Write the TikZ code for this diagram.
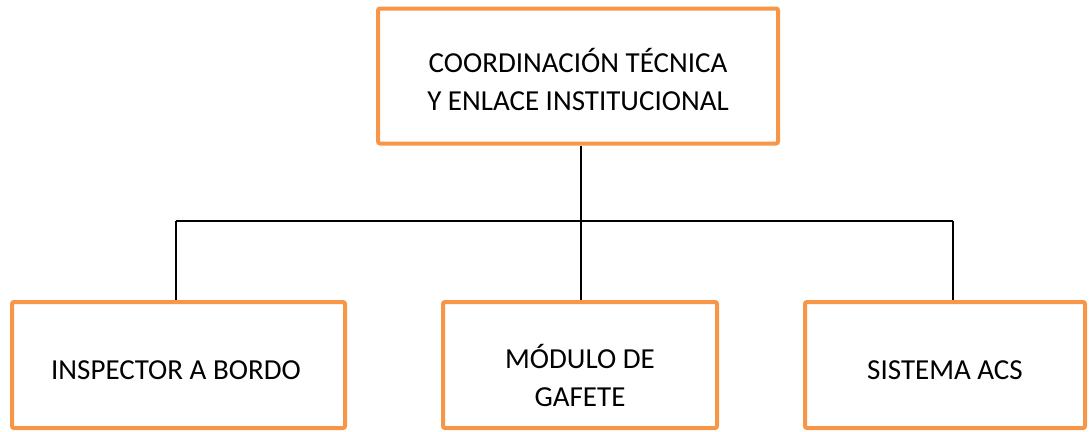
\documentclass[tikz,border=0pt]{standalone}
\usepackage{fontspec}
\setmainfont{Carlito}
\definecolor{boxorange}{HTML}{F79646}
\begin{document}
\begin{tikzpicture}[x=1pt,y=-1pt,
  orgbox/.style={draw=boxorange, line width=4pt, rounded corners=2pt, fill=white, inner sep=0pt},
  lbl/.style={align=center, font=\fontsize{29}{38}\selectfont, inner sep=0pt},
  link/.style={draw=black, line width=1.2pt}]
\useasboundingbox (0,0) rectangle (1089,431);
\node[orgbox, minimum width=400, minimum height=135] (top) at (578,76) {};
\node[lbl] (toptext) at (578,79) {COORDINACIÓN TÉCNICA\\Y ENLACE INSTITUCIONAL};
\node[orgbox, minimum width=333, minimum height=126] (left) at (178.5,365) {};
\node[lbl] (lefttext) at (176,370) {INSPECTOR A BORDO};
\node[orgbox, minimum width=274, minimum height=126] (mid) at (580,365) {};
\node[lbl] (midtext) at (580,375) {MÓDULO DE\\GAFETE};
\node[orgbox, minimum width=280, minimum height=126] (right) at (945,365) {};
\node[lbl] (righttext) at (945,370) {SISTEMA ACS};
\coordinate (j) at (581,221);
\coordinate (l) at (176,221);
\coordinate (r) at (953,221);
\draw[link, line width=2pt] (top.south -| j) -- (j);
\draw[link] (l) -- (r);
\draw[link] (l) -- (l |- left.north);
\draw[link] (j) -- (j |- mid.north);
\draw[link] (r) -- (r |- right.north);
\end{tikzpicture}
\end{document}
